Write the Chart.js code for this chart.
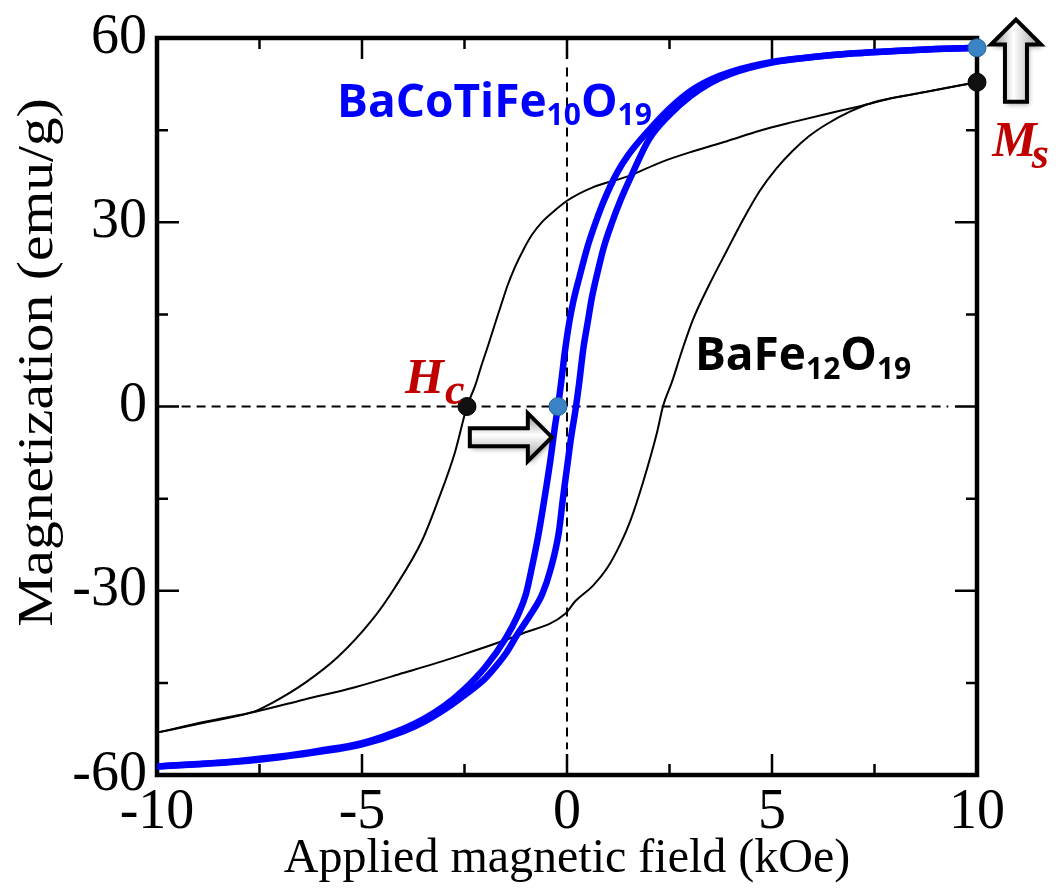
<!DOCTYPE html>
<html>
<head>
<meta charset="utf-8">
<script src="https://cdn.jsdelivr.net/npm/chart.js"></script>
<style>
  html, body { margin: 0; padding: 0; background: #fff; }
</style>
</head>
<body>
<canvas id="myChart" width="1059" height="888"></canvas>
<script>
// axis ticks
const fieldTicks = [-10, -5, 0, 5, 10];
const magTicks = [-60, -30, 0, 30, 60];

// BaFe12O19, branch coming down from +10 kOe
const bfDownH = [10, 8.8, 8, 7.15, 6.3, 5.5, 4.7, 3.9, 3.1, 2.3, 1.5, 0.6, 0, -0.3, -0.6, -0.85, -1.05, -1.27, -1.45, -1.58, -1.75, -1.93, -2.1, -2.24, -2.44, -2.73, -3.15, -3.54, -4.2, -4.76, -5.59, -6.39, -7.2, -7.6, -8.8, -10];
const bfDownM = [52.8, 51.3, 50.3, 48.9, 47.6, 46.3, 44.9, 43.2, 41.6, 39.8, 37.5, 35.6, 33.5, 31.9, 30.1, 28, 25.7, 22.7, 19.7, 17.1, 13.6, 9.8, 6.4, 3.4, 0, -7.4, -15.4, -21.9, -29.5, -34.8, -40.8, -45, -48.3, -49.6, -51.4, -53.1];
// BaFe12O19, branch going back up
const bfUpH = [-10, -8.8, -7.6, -6.4, -5.17, -4, -2.73, -1.1, -0.05, 0.2, 0.63, 0.98, 1.3, 1.54, 1.86, 2.2, 2.34, 2.56, 2.8, 3.07, 3.49, 3.9, 4.3, 4.7, 5.1, 5.5, 5.9, 6.34, 6.9, 7.46, 8.5, 10];
const bfUpM = [-53.1, -51.3, -49.7, -47.7, -45.7, -43.4, -40.8, -37, -33.8, -31.7, -29.2, -26.3, -22.4, -18.7, -12.2, -4.1, 0, 4, 9, 14.1, 20.1, 25.4, 30.5, 35.1, 38.7, 41.6, 44, 46, 48, 49.5, 50.9, 52.8];

// BaCoTiFe10O19, branch coming down
const bctDownH = [10, 9, 8, 7, 6, 5, 4, 3.5, 3, 2.5, 2, 1.5, 1.2, 0.9, 0.7, 0.5, 0.3, 0.15, 0.05, -0.05, -0.15, -0.22, -0.3, -0.4, -0.55, -0.7, -0.85, -1, -1.2, -1.5, -2, -2.5, -3, -3.5, -4, -5, -6, -7, -8, -9, -10];
const bctDownM = [58.4, 58.2, 57.9, 57.5, 56.9, 56.1, 54.5, 53.2, 51.3, 48.5, 45, 41, 37.8, 33.5, 30, 26, 21, 17, 13.5, 9, 3.5, 0, -3.5, -8.5, -15, -21, -26, -30.5, -34, -37.8, -42.5, -46, -48.8, -50.9, -52.5, -54.8, -56, -57, -57.7, -58.2, -58.6];
// BaCoTiFe10O19, branch going up
const bctUpH = [-10, -9, -8, -7, -6, -5, -4, -3.5, -3, -2.5, -2, -1.76, -1.5, -1.2, -0.9, -0.6, -0.4, -0.2, -0.1, 0, 0.1, 0.22, 0.3, 0.4, 0.5, 0.6, 0.75, 0.9, 1.1, 1.3, 1.6, 2, 2.5, 3, 3.5, 4, 5, 6, 7, 8, 9, 10];
const bctUpM = [-58.6, -58.25, -57.8, -57.1, -56.2, -55, -52.9, -51.4, -49.4, -47, -44.3, -42.5, -40.3, -37, -34, -30.5, -26.5, -20.5, -15, -10, -5, 0, 4, 9.5, 13.5, 17.5, 22, 26, 30, 33.5, 38, 43.5, 47.5, 50.5, 52.7, 54.2, 56, 56.9, 57.5, 57.9, 58.2, 58.4];

// marked points: Ms (at 10 kOe) and Hc (M = 0), blue sample first
const msH = [10, 10];
const msM = [58.4, 52.8];
const hcH = [-0.22, -2.44];
const hcM = [0, 0];

// dashed zero lines
const zeroLineH = [-9.4, 9.3];
const zeroAxisM = [55.2, -55.8];

const pts = (hs, ms) => hs.map((h, i) => ({ x: h, y: ms[i] }));

function drawFormula(ctx, x, y, parts, font, subFont, subDy, color) {
    ctx.fillStyle = color;
    ctx.textAlign = 'left';
    ctx.textBaseline = 'alphabetic';
    let cx = x;
    parts.forEach(p => {
        ctx.font = p[1] ? subFont : font;
        ctx.fillText(p[0], cx, y + (p[1] ? subDy : 0));
        cx += ctx.measureText(p[0]).width + (p[2] || 0);
    });
}

function blockArrow(ctx, x0, y0, x1, y1, sh, hh, hl) {
    const len = Math.hypot(x1 - x0, y1 - y0);
    ctx.save();
    ctx.translate(x0, y0);
    ctx.rotate(Math.atan2(y1 - y0, x1 - x0));
    ctx.beginPath();
    ctx.moveTo(0, -sh);
    ctx.lineTo(len - hl, -sh);
    ctx.lineTo(len - hl, -hh);
    ctx.lineTo(len, 0);
    ctx.lineTo(len - hl, hh);
    ctx.lineTo(len - hl, sh);
    ctx.lineTo(0, sh);
    ctx.closePath();
    const g = ctx.createLinearGradient(0, -hh, 0, hh);
    g.addColorStop(0, '#8a8a8a');
    g.addColorStop(0.45, '#ffffff');
    g.addColorStop(1, '#9a9a9a');
    ctx.shadowColor = 'rgba(0,0,0,0.35)';
    ctx.shadowBlur = 5;
    ctx.shadowOffsetX = 2;
    ctx.shadowOffsetY = 3;
    ctx.fillStyle = g;
    ctx.fill();
    ctx.shadowColor = 'transparent';
    ctx.lineWidth = 4;
    ctx.lineJoin = 'miter';
    ctx.strokeStyle = '#000';
    ctx.stroke();
    ctx.restore();
}

const decor = {
    id: 'decor',
    beforeDatasetsDraw(chart) {
        const { ctx, chartArea: a, scales: { x, y } } = chart;
        ctx.save();
        ctx.strokeStyle = '#000';
        ctx.lineWidth = 2.5;
        ctx.beginPath();
        fieldTicks.forEach((v, i) => {
            const px = x.getPixelForValue(v);
            ctx.moveTo(px, a.bottom); ctx.lineTo(px, a.bottom - 21);
            ctx.moveTo(px, a.top); ctx.lineTo(px, a.top + 21);
            if (i < fieldTicks.length - 1) {
                const pm = x.getPixelForValue((v + fieldTicks[i + 1]) / 2);
                ctx.moveTo(pm, a.bottom); ctx.lineTo(pm, a.bottom - 11);
                ctx.moveTo(pm, a.top); ctx.lineTo(pm, a.top + 11);
            }
        });
        magTicks.forEach((v, i) => {
            const py = y.getPixelForValue(v);
            ctx.moveTo(a.left, py); ctx.lineTo(a.left + 22, py);
            ctx.moveTo(a.right, py); ctx.lineTo(a.right - 22, py);
            if (i < magTicks.length - 1) {
                const pm = y.getPixelForValue((v + magTicks[i + 1]) / 2);
                ctx.moveTo(a.left, pm); ctx.lineTo(a.left + 11, pm);
                ctx.moveTo(a.right, pm); ctx.lineTo(a.right - 11, pm);
            }
        });
        ctx.stroke();
        ctx.lineWidth = 4.5;
        ctx.strokeRect(a.left, a.top, a.right - a.left, a.bottom - a.top);
        ctx.restore();
    },
    afterDatasetsDraw(chart) {
        const { ctx, scales: { x, y } } = chart;
        ctx.save();
        // arrows
        blockArrow(ctx, x.getPixelForValue(10.95), y.getPixelForValue(49.6),
            x.getPixelForValue(10.95), y.getPixelForValue(63), 11, 25, 25);
        blockArrow(ctx, x.getPixelForValue(-2.37), y.getPixelForValue(-5),
            x.getPixelForValue(-0.37), y.getPixelForValue(-5), 9, 24, 24);
        // sample labels
        const f = 'bold 46px "Open Sans"', fs = 'bold 30px "Open Sans"';
        drawFormula(ctx, x.getPixelForValue(-5.61), y.getPixelForValue(47.2),
            [['BaCoTiFe'], ['10', true], ['O'], ['19', true]], f, fs, 8, '#0000ff');
        drawFormula(ctx, x.getPixelForValue(3.12), y.getPixelForValue(6),
            [['BaFe'], ['12', true], ['O'], ['19', true]], f, fs, 9, '#000');
        // Hc and Ms
        const fi = 'italic bold 50px "Liberation Serif"', fis = 'italic bold 44px "Liberation Serif"';
        drawFormula(ctx, x.getPixelForValue(-3.95), y.getPixelForValue(2.26),
            [['H', false, 1], ['c', true]], fi, fis, 11, '#c00000');
        drawFormula(ctx, x.getPixelForValue(10.37), y.getPixelForValue(40.8),
            [['M', false, -5], ['s', true]], fi, fis, 12, '#c00000');
        ctx.restore();
    },
    afterDraw(chart) {
        const { ctx, chartArea: a } = chart;
        ctx.save();
        ctx.translate(a.left - 105, (a.top + a.bottom) / 2 - 44);
        ctx.rotate(-Math.PI / 2);
        ctx.scale(1.15, 1);
        ctx.font = '50px "Liberation Serif"';
        ctx.fillStyle = '#000';
        ctx.textAlign = 'center';
        ctx.textBaseline = 'alphabetic';
        ctx.fillText('Magnetization (emu/g)', 0, 0);
        ctx.restore();
    }
};

const lineSet = (data, color, width, order) => ({
    data, borderColor: color, backgroundColor: color, borderWidth: width,
    showLine: true, pointRadius: 0, cubicInterpolationMode: 'monotone', order
});

new Chart(document.getElementById('myChart'), {
    type: 'scatter',
    data: {
        datasets: [
            {
                data: pts(msH, msM), pointRadius: 9, showLine: false, clip: false, order: 0,
                backgroundColor: ['#3a84c6', '#111111'], borderColor: ['#1f5f99', '#000000'], borderWidth: 1
            },
            {
                data: pts(hcH, hcM), pointRadius: 9, showLine: false, clip: false, order: 0,
                backgroundColor: ['#3a84c6', '#111111'], borderColor: ['#1f5f99', '#000000'], borderWidth: 1
            },
            lineSet(pts(bctDownH, bctDownM), '#0000ff', 6.5, 1),
            lineSet(pts(bctUpH, bctUpM), '#0000ff', 6.5, 1),
            lineSet(pts(bfDownH, bfDownM), '#000000', 2, 2),
            lineSet(pts(bfUpH, bfUpM), '#000000', 2, 2),
            Object.assign(lineSet(pts(zeroLineH, [0, 0]), '#000000', 2, 3), { borderDash: [9, 6], cubicInterpolationMode: 'default', tension: 0 }),
            Object.assign(lineSet(pts([0, 0], zeroAxisM), '#000000', 2, 3), { borderDash: [9, 6], cubicInterpolationMode: 'default', tension: 0 })
        ]
    },
    options: {
        responsive: false,
        animation: false,
        layout: { padding: { top: 33, right: 82, left: 0, bottom: 0 } },
        plugins: { legend: { display: false }, tooltip: { enabled: false } },
        scales: {
            x: {
                type: 'linear', min: -10, max: 10,
                afterBuildTicks: s => { s.ticks = fieldTicks.map(v => ({ value: v })); },
                afterFit: s => { s.height = 113; },
                grid: { display: false, drawTicks: false },
                border: { display: false },
                ticks: { color: '#000', font: { family: 'Liberation Serif', size: 56, lineHeight: 1 }, padding: 10, maxRotation: 0, autoSkip: false },
                title: { display: true, text: 'Applied magnetic field (kOe)', color: '#000', font: { family: 'Liberation Serif', size: 48, lineHeight: 1.2 }, padding: 0 }
            },
            y: {
                type: 'linear', min: -60, max: 60,
                afterBuildTicks: s => { s.ticks = magTicks.map(v => ({ value: v })); },
                afterFit: s => { s.width = 157; },
                grid: { display: false, drawTicks: false },
                border: { display: false },
                ticks: { color: '#000', font: { family: 'Liberation Serif', size: 56, lineHeight: 1 }, padding: 10 }
            }
        }
    },
    plugins: [decor]
});
</script>
</body>
</html>
